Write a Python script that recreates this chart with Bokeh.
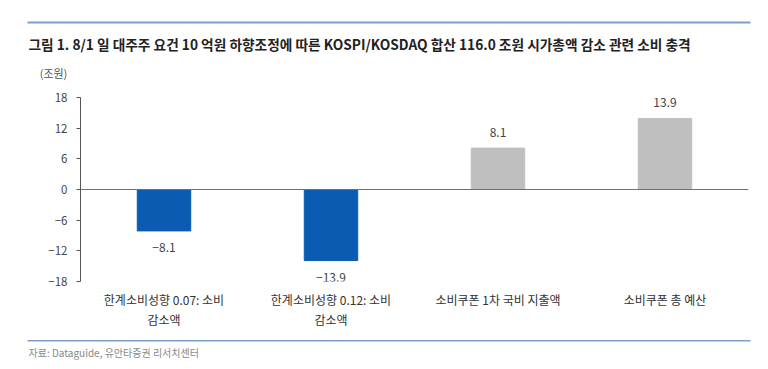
from bokeh.plotting import figure
from bokeh.layouts import column
from bokeh.models import (Range1d, FixedTicker, Span, Label, ColumnDataSource)
from bokeh.core.properties import value
from bokeh.embed import file_html
from bokeh.resources import INLINE

categories = ["한계소비성향 0.07: 소비\n감소액", "한계소비성향 0.12: 소비\n감소액",
              "소비쿠폰 1차 국비 지출액", "소비쿠폰 총 예산"]
values = [-8.1, -13.9, 8.1, 13.9]
colors = ["#0A5BB1", "#0A5BB1", "#BFBFBF", "#BFBFBF"]
y_ticks = [-18, -12, -6, 0, 6, 12, 18]
title_text = "그림 1. 8/1 일 대주주 요건 10 억원 하향조정에 따른 KOSPI/KOSDAQ 합산 116.0 조원 시가총액 감소 관련 소비 충격"
unit_text = "(조원)"
source_text = "자료: Dataguide, 유안타증권 리서치센터"

FONT = "Noto Sans CJK KR"
W = 768
H_HDR, H_MAIN, H_FTR = 80, 250, 39
RULE = "#7F9FC8"


def pixel_panel(h):
    """A figure whose frame fills it, with data units equal to pixels (y downwards)."""
    f = figure(width=W, height=h, output_backend="svg", toolbar_location=None,
               x_range=Range1d(0, W), y_range=Range1d(h, 0),
               x_axis_location=None, y_axis_location=None,
               min_border_left=0, min_border_right=0, min_border_top=0, min_border_bottom=0)
    f.frame_align = False
    f.outline_line_color = None
    f.xgrid.visible = False
    f.ygrid.visible = False
    return f


# ---- header: rule, title, unit
hdr = pixel_panel(H_HDR)
hdr.quad(left=27, right=750, top=21, bottom=23, fill_color=RULE, line_color=None)
hdr.add_layout(Label(x=28, y=43, text=title_text, text_font=FONT, text_font_size="13.7px",
                     text_font_style="bold", text_color="#222222", text_baseline="middle"))
hdr.add_layout(Label(x=53, y=72, text=unit_text, text_font=FONT, text_font_size="11px",
                     text_color="#555555", text_baseline="middle", text_align="center"))

# ---- main chart
xs = [i + 0.5 for i in range(len(categories))]
labels = [f"{v:.1f}".replace("-", "−") for v in values]
pos = [v >= 0 for v in values]

p = figure(width=W, height=H_MAIN, output_backend="svg", toolbar_location=None,
           x_range=Range1d(0, len(categories)), y_range=Range1d(-18, 18),
           min_border_left=80, min_border_right=20, min_border_top=17, min_border_bottom=45)
p.frame_align = False
p.outline_line_color = None
p.xgrid.visible = False
p.ygrid.visible = False

src = ColumnDataSource(dict(x=xs, top=values, color=colors))
p.vbar(x="x", top="top", bottom=0, width=0.32, fill_color="color", line_color="color", source=src)

p.add_layout(Span(location=0, dimension="width", line_color="#707070", line_width=1.2))

pos_src = ColumnDataSource(dict(x=[x for x, q in zip(xs, pos) if q],
                                y=[v for v, q in zip(values, pos) if q],
                                t=[l for l, q in zip(labels, pos) if q]))
neg_src = ColumnDataSource(dict(x=[x for x, q in zip(xs, pos) if not q],
                                y=[v for v, q in zip(values, pos) if not q],
                                t=[l for l, q in zip(labels, pos) if not q]))
p.text(x="x", y="y", text="t", source=pos_src, text_align="center", text_baseline="middle",
       y_offset=-16, text_font=value(FONT), text_font_size="12px", text_color="#444444")
p.text(x="x", y="y", text="t", source=neg_src, text_align="center", text_baseline="middle",
       y_offset=17, text_font=value(FONT), text_font_size="12px", text_color="#444444")

ya = p.yaxis[0]
ya.ticker = FixedTicker(ticks=y_ticks)
ya.major_label_overrides = {t: str(t).replace("-", "−") for t in y_ticks}
ya.major_tick_in = 0
ya.major_tick_out = 4
ya.minor_tick_line_color = None
ya.axis_line_color = "#555555"
ya.major_tick_line_color = "#555555"
ya.major_label_text_font = FONT
ya.major_label_text_font_size = "11.5px"
ya.major_label_text_color = "#444444"
ya.major_label_standoff = 9

xa = p.xaxis[0]
xa.ticker = FixedTicker(ticks=xs)
xa.major_label_overrides = {x: c for x, c in zip(xs, categories)}
xa.axis_line_color = None
xa.major_tick_line_color = None
xa.minor_tick_line_color = None
xa.major_label_text_font = FONT
xa.major_label_text_font_size = "12px"
xa.major_label_text_color = "#333333"
xa.major_label_standoff = 3

# ---- footer: rule, source
ftr = pixel_panel(H_FTR)
ftr.quad(left=27, right=750, top=9.5, bottom=11, fill_color=RULE, line_color=None)
ftr.add_layout(Label(x=28, y=22, text=source_text, text_font=FONT, text_font_size="10px",
                     text_color="#888888", text_baseline="middle"))

layout = column(hdr, p, ftr, spacing=0)
open("out.html", "w").write(file_html(layout, INLINE))
